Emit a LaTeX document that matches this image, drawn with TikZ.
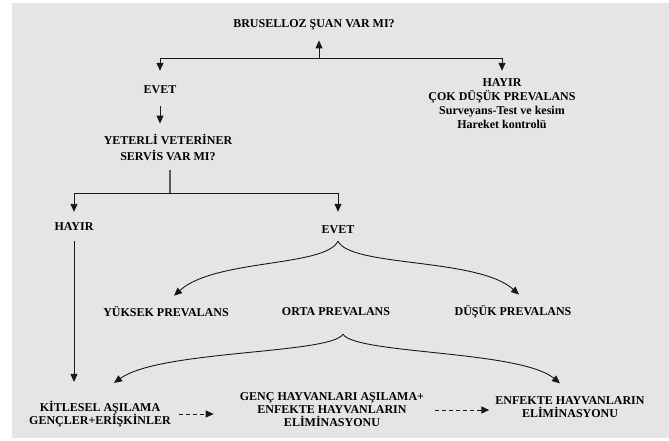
\documentclass[tikz,border=0pt]{standalone}
\usepackage{fontspec}
\setmainfont{Liberation Serif}
\usetikzlibrary{arrows.meta}
\tikzset{
  lbl/.style={font=\bfseries\fontsize{12}{14}\selectfont, align=center, inner sep=1pt, text=black},
  link/.style={draw=black!90, line width=0.9pt},
  arr/.style={link, -{Triangle[length=8pt,width=7pt]}},
  dasharr/.style={arr, dash pattern=on 4pt off 3pt},
  stem/.style={draw=black!65, line width=2pt},
}
\begin{document}
\begin{tikzpicture}[x=1pt,y=-1pt]
\useasboundingbox (0,0) rectangle (669,441);
\fill[white] (0,0) rectangle (669,441);
\fill[black!10] (12,3) rectangle (669,438);

\node[lbl] (bruselloz) at (314,25) {BRUSELLOZ ŞUAN VAR MI?};
\node[lbl] (evetA) at (160,90) {EVET};
\node[lbl] (hayirA) at (502,104) {HAYIR\\ÇOK DÜŞÜK PREVALANS\\Surveyans-Test ve kesim\\Hareket kontrolü};
\node[lbl, font=\bfseries\fontsize{12}{16}\selectfont] (servis) at (168,147) {YETERLİ VETERİNER\\SERVİS VAR MI?};
\node[lbl] (hayirB) at (74,227) {HAYIR};
\node[lbl] (evetB) at (338,230) {EVET};
\node[lbl] (yuksek) at (166,312) {YÜKSEK PREVALANS};
\node[lbl] (orta) at (336,312) {ORTA PREVALANS};
\node[lbl] (dusuk) at (513,312) {DÜŞÜK PREVALANS};
\node[lbl, font=\bfseries\fontsize{12}{13}\selectfont] (kitlesel) at (100,414) {KİTLESEL AŞILAMA\\GENÇLER+ERİŞKİNLER};
\node[lbl, font=\bfseries\fontsize{12}{13}\selectfont] (genc) at (332,410) {GENÇ HAYVANLARI AŞILAMA+\\ENFEKTE HAYVANLARIN\\ELİMİNASYONU};
\node[lbl, font=\bfseries\fontsize{12}{13}\selectfont] (enfekte) at (570,407) {ENFEKTE HAYVANLARIN\\ELİMİNASYONU};

% first question
\coordinate (jA) at (319,58);
\draw[arr, shorten >=9pt] (jA) -- (jA |- bruselloz.south);
\draw[arr, shorten >=14pt] (jA) -| (evetA.north);
\draw[arr, shorten >=7pt] (jA) -| (hayirA.north);
\draw[arr, shorten <=11pt, shorten >=9pt] (evetA.south) -- (evetA.south |- servis.north);

% second question
\coordinate (jB) at (170,193);
\draw[stem, shorten <=9pt] (jB |- servis.south) -- (jB);
\draw[arr, shorten >=10pt] (jB) -| (hayirB.north);
\draw[arr, shorten >=13pt] (jB) -| (evetB.north);
\draw[arr, shorten <=9pt, shorten >=18pt] (hayirB.south) -- (hayirB.south |- kitlesel.north);

% prevalans
\draw[arr] ([yshift=-6pt]evetB.south) .. controls +(-13,26) and +(41,-37) .. ([xshift=8pt,yshift=10pt]yuksek.north);
\draw[arr] ([yshift=-6pt]evetB.south) .. controls +(13,26) and +(-41,-37) .. ([xshift=6pt,yshift=10pt]dusuk.north);
\draw[arr] ([xshift=7pt,yshift=-17pt]orta.south) .. controls +(-13,20) and +(46,-33) .. ([xshift=14pt,yshift=17pt]kitlesel.north);
\draw[arr] ([xshift=7pt,yshift=-17pt]orta.south) .. controls +(13,20) and +(-40,-33) .. ([xshift=-10pt,yshift=12pt]enfekte.north);

% steps
\draw[dasharr, shorten <=7pt, shorten >=25pt] (kitlesel.east) -- (kitlesel.east -| genc.west);
\draw[dasharr, shorten <=10pt, shorten >=5pt] (genc.east) -- (genc.east -| enfekte.west);
\end{tikzpicture}
\end{document}
